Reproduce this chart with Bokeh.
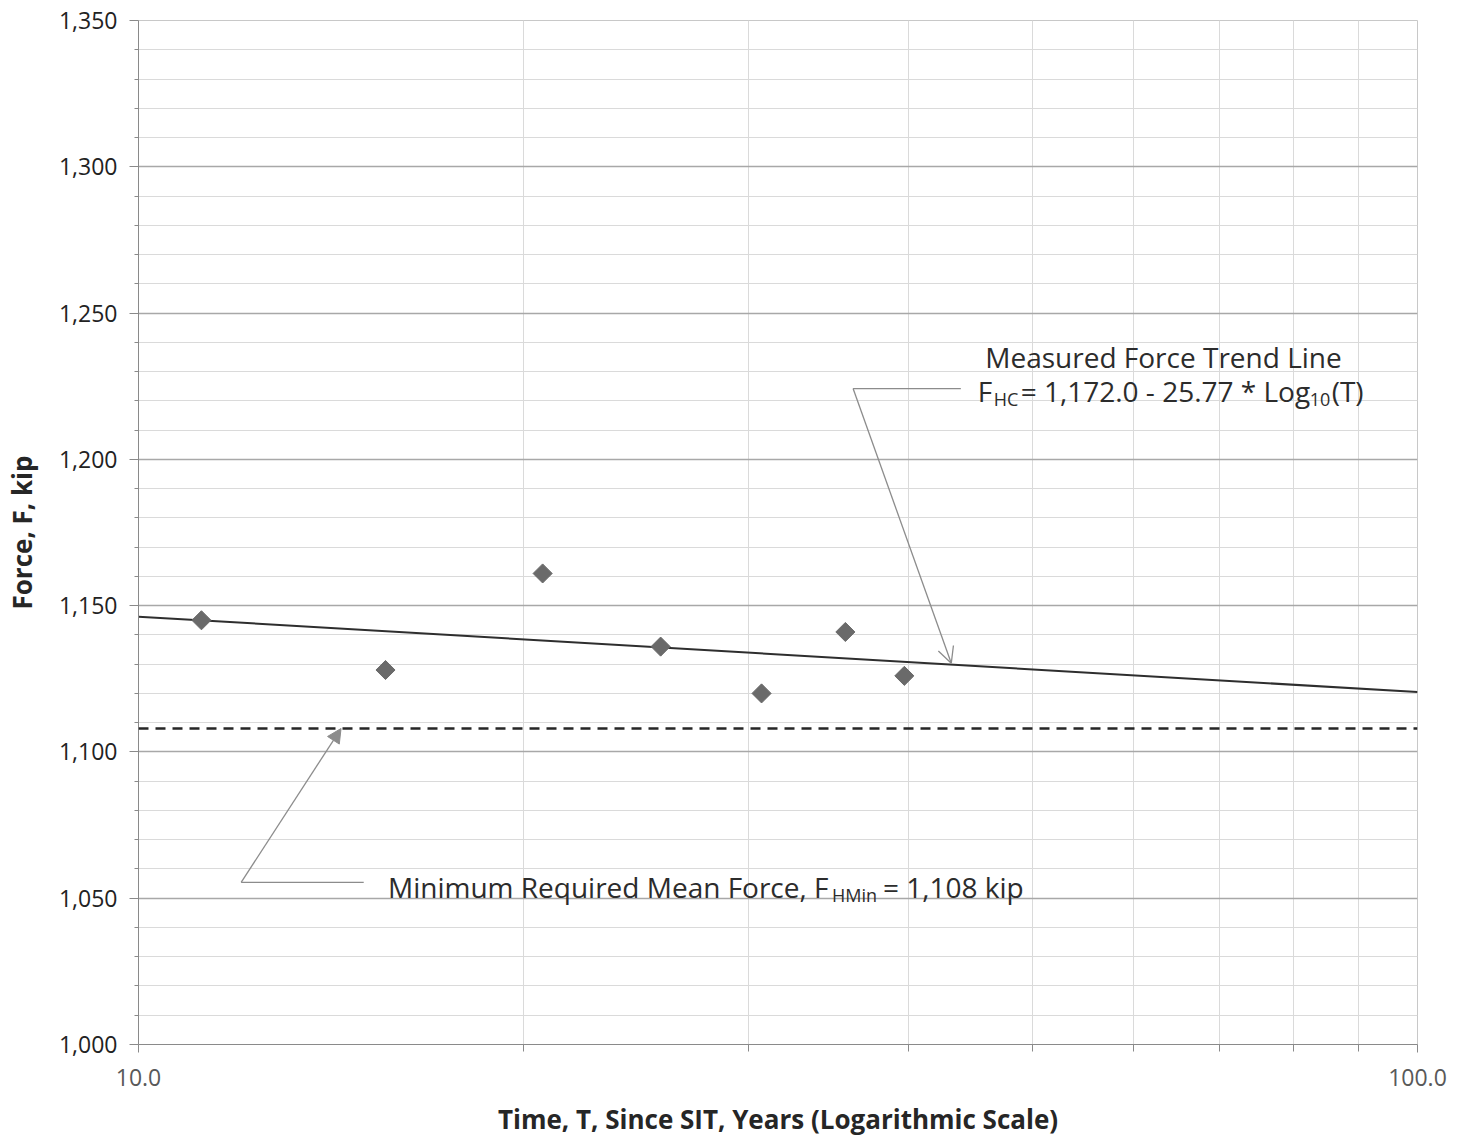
from bokeh.plotting import figure
from bokeh.models import (FixedTicker, NumeralTickFormatter, PrintfTickFormatter,
                          Label, Arrow, OpenHead, NormalHead, Span)
from bokeh.embed import file_html
from bokeh.resources import INLINE
import numpy as np

# Measured mean lift-off force per surveillance
time_years = [11.2, 15.6, 20.7, 25.6, 30.7, 35.7, 39.7]
force_kip = [1145, 1128, 1161, 1136, 1120, 1141, 1126]

# Regression of force on log10(time)
trend_intercept = 1172.0
trend_slope = -25.77

# Minimum required mean force
min_force_kip = 1108

y_major = [1000, 1050, 1100, 1150, 1200, 1250, 1300, 1350]
y_minor = [v for v in range(1000, 1351, 10) if v % 50]
x_major = [10, 100]
x_minor = [20, 30, 40, 50, 60, 70, 80, 90]

FONT = "Open Sans"
TEXT = "#2c2c2c"
LEADER = "#8c8c8c"

p = figure(width=1460, height=1141, x_axis_type="log",
           x_range=(10, 100), y_range=(1000, 1350),
           output_backend="svg", toolbar_location=None,
           min_border_left=137, min_border_right=43,
           min_border_top=20, min_border_bottom=97)
p.background_fill_color = "white"
p.border_fill_color = "white"
p.outline_line_color = "#c8c8c8"

# Axes
p.xaxis.ticker = FixedTicker(ticks=x_major, minor_ticks=x_minor)
p.xaxis.formatter = PrintfTickFormatter(format="%.1f")
p.yaxis.ticker = FixedTicker(ticks=y_major, minor_ticks=y_minor)
p.yaxis.formatter = NumeralTickFormatter(format="0,0")

for ax in (p.xaxis, p.yaxis):
    ax.axis_line_color = "#8a8a8a"
    ax.major_tick_line_color = "#8a8a8a"
    ax.minor_tick_line_color = "#8a8a8a"
    ax.major_tick_in = 0
    ax.minor_tick_in = 0
    ax.major_label_text_font = FONT
    ax.major_label_text_font_size = "23px"
    ax.axis_label_text_font = FONT
    ax.axis_label_text_font_style = "bold"
    ax.axis_label_text_font_size = "26px"
    ax.axis_label_text_color = "#262626"

p.yaxis.major_tick_out = 9
p.yaxis.minor_tick_out = 4
p.yaxis.major_label_standoff = 12
p.yaxis.major_label_text_color = "#222222"
p.yaxis.axis_label = "Force, F, kip"
p.yaxis.axis_label_standoff = 16

p.xaxis.major_tick_out = 8
p.xaxis.minor_tick_out = 7
p.xaxis.major_label_standoff = 16
p.xaxis.major_label_text_color = "#595959"
p.xaxis.axis_label = "Time, T, Since SIT, Years (Logarithmic Scale)"
p.xaxis.axis_label_standoff = 12

# Grid
p.ygrid.ticker = FixedTicker(ticks=y_major, minor_ticks=y_minor)
p.ygrid.grid_line_color = "#a8a8a8"
p.ygrid.grid_line_width = 1.5
p.ygrid.minor_grid_line_color = "#dadada"
p.ygrid.minor_grid_line_width = 1
p.xgrid.ticker = FixedTicker(ticks=x_major, minor_ticks=x_minor)
p.xgrid.grid_line_color = None
p.xgrid.minor_grid_line_color = "#dadada"
p.xgrid.minor_grid_line_width = 1

# Minimum required force (dashed)
p.add_layout(Span(location=min_force_kip, dimension="width",
                  line_color="#262626", line_width=2.5, line_dash="10 7"))

# Trend line across the full time range
t_line = np.array([10.0, 100.0])
f_line = trend_intercept + trend_slope * np.log10(t_line)
p.line(t_line, f_line, line_color="#2e2e2e", line_width=2)

# Measured points
p.scatter(time_years, force_kip, marker="square", angle=np.pi / 4,
          size=13.5, fill_color="#6a6a6a", line_color="#6a6a6a")

# Leader for the trend-line callout
trend_leader_y = 1224.2
p.line([43.95, 36.2], [trend_leader_y, trend_leader_y],
       line_color=LEADER, line_width=1.3)
p.add_layout(Arrow(x_start=36.2, y_start=trend_leader_y, x_end=43.2, y_end=1130.3,
                   line_color=LEADER, line_width=1.3,
                   end=OpenHead(size=16, line_color=LEADER, line_width=1.3)))

# Leader for the minimum-force callout
min_leader_y = 1055.4
p.line([15.0, 12.03], [min_leader_y, min_leader_y],
       line_color=LEADER, line_width=1.3)
p.add_layout(Arrow(x_start=12.03, y_start=min_leader_y, x_end=14.4, y_end=min_force_kip,
                   line_color=LEADER, line_width=1.3,
                   end=NormalHead(size=14, fill_color=LEADER, line_color=LEADER)))


def add_text(x, y, text, dx=0, dy=0, size="28px", align="left"):
    p.add_layout(Label(x=x, y=y, text=text, x_offset=dx, y_offset=dy,
                       text_font=FONT, text_font_size=size, text_color=TEXT,
                       text_align=align, text_baseline="middle"))


# Trend-line callout text
add_text(63.3, 1235.1, "Measured Force Trend Line", align="center")
eq_x, eq_y = 45.3, 1223.2
add_text(eq_x, eq_y, "F")
add_text(eq_x, eq_y, "HC", dx=16, dy=-8, size="18px")
add_text(eq_x, eq_y, "= 1,172.0 - 25.77 * Log", dx=43)
add_text(eq_x, eq_y, "10", dx=332, dy=-8, size="18px")
add_text(eq_x, eq_y, "(T)", dx=354)

# Minimum-force callout text
mn_x, mn_y = 15.67, 1054.0
add_text(mn_x, mn_y, "Minimum Required Mean Force, F")
add_text(mn_x, mn_y, "HMin", dx=444, dy=-8, size="18px")
add_text(mn_x, mn_y, "= 1,108 kip", dx=495)

open("out.html", "w").write(file_html(p, INLINE))
